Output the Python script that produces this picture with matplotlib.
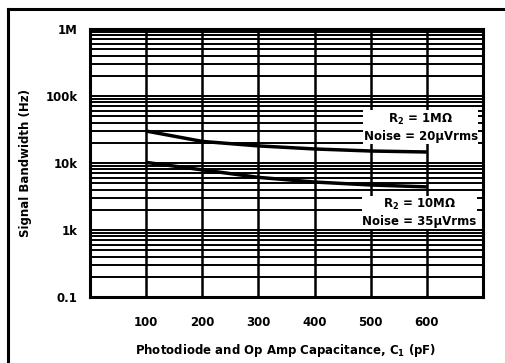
import matplotlib
matplotlib.use("Agg")
import matplotlib.pyplot as plt
from matplotlib.lines import Line2D
from matplotlib.ticker import LogLocator, NullFormatter, FixedLocator, FixedFormatter

plt.rcParams['font.family'] = ['DejaVu Sans']
plt.rcParams['font.weight'] = 'bold'
plt.rcParams['mathtext.default'] = 'bf'

# Photodiode + op amp capacitance (pF)
cap_pf = [100, 200, 300, 400, 500, 600]
# Signal bandwidth (Hz) for each feedback resistor
bw_r2_1meg = [30e3, 21e3, 18e3, 16.2e3, 15.1e3, 14.6e3]
bw_r2_10meg = [10.2e3, 7.9e3, 6.1e3, 5.2e3, 4.7e3, 4.4e3]

x_ticks = [100, 200, 300, 400, 500, 600]
y_ticks = [1e2, 1e3, 1e4, 1e5, 1e6]
y_tick_labels = ["0.1", "1k", "10k", "100k", "1M"]

W, H = 505, 363
fig = plt.figure(figsize=(W / 100, H / 100), dpi=100)
fig.patch.set_facecolor("white")

# outer frame (top and left edges)
fig.add_artist(Line2D([8 / W, 1.0], [1 - 9 / H, 1 - 9 / H], transform=fig.transFigure,
                      color="black", lw=2.2))
fig.add_artist(Line2D([8 / W, 8 / W], [1 - 9 / H, 0.0], transform=fig.transFigure,
                      color="black", lw=2.2))

left, right, top, bottom = 90, 483, 29, 297
ax = fig.add_axes([left / W, 1 - bottom / H, (right - left) / W, (bottom - top) / H])
ax.set_xlim(0, 700)
ax.set_yscale("log")
ax.set_ylim(1e2, 1e6)

ax.xaxis.set_major_locator(FixedLocator(x_ticks))
ax.yaxis.set_major_locator(FixedLocator(y_ticks))
ax.yaxis.set_major_formatter(FixedFormatter(y_tick_labels))
ax.yaxis.set_minor_locator(LogLocator(base=10, subs=range(2, 10), numticks=20))
ax.yaxis.set_minor_formatter(NullFormatter())

ax.grid(True, which="major", axis="x", color="black", lw=1.8)
ax.grid(True, which="both", axis="y", color="black", lw=1.4)
ax.set_axisbelow(True)

ax.tick_params(axis="both", which="both", length=0)
ax.tick_params(axis="y", pad=9, labelsize=8.5)
ax.tick_params(axis="x", pad=14, labelsize=8.5)
for s in ax.spines.values():
    s.set_linewidth(2.2)

ax.plot(cap_pf, bw_r2_1meg, color="black", lw=2.5, solid_capstyle="butt", zorder=3)
ax.plot(cap_pf, bw_r2_10meg, color="black", lw=2.5, solid_capstyle="butt", zorder=3)

box = dict(facecolor="white", edgecolor="none", pad=0.5)
ax.text(589, 3.4e4, "R$_2$ = 1M\u03a9\nNoise = 20\u00b5Vrms", ha="center", va="center",
        fontsize=8.5, fontweight="bold", linespacing=1.3, bbox=box, zorder=4)
ax.text(587, 1.8e3, "R$_2$ = 10M\u03a9\nNoise = 35\u00b5Vrms", ha="center", va="center",
        fontsize=8.5, fontweight="bold", linespacing=1.3, bbox=box, zorder=4)

ax.set_xlabel("Photodiode and Op Amp Capacitance, C$_1$ (pF)", fontsize=8.5,
              fontweight="bold")
ax.set_ylabel("Signal Bandwidth (Hz)", fontsize=8.5, fontweight="bold")
ax.xaxis.set_label_coords((286 - left) / (right - left), -(342 - bottom) / (bottom - top))
ax.yaxis.set_label_coords(-(90 - 32) / (right - left), (bottom - 163) / (bottom - top))

fig.savefig("out.png", dpi=100)
